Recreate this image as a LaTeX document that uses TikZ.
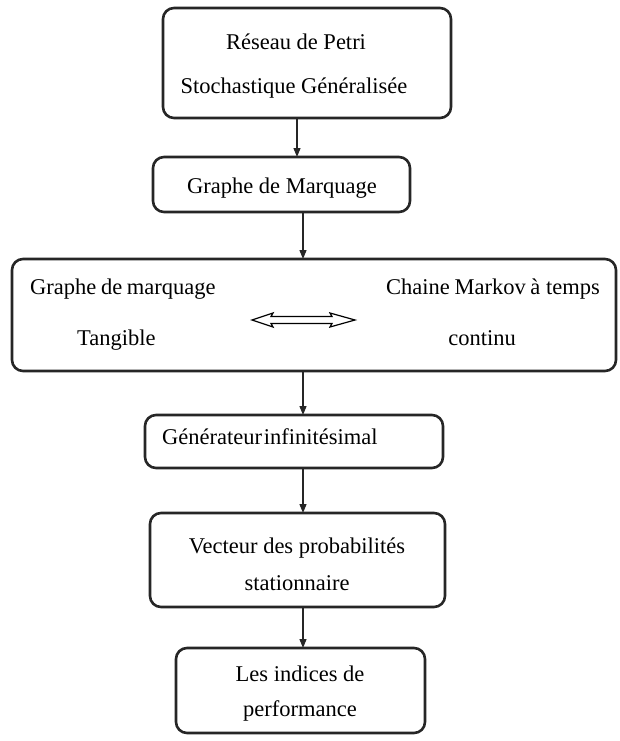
\documentclass[tikz,border=0pt]{standalone}
\usepackage{fontspec}
\setmainfont{Liberation Serif}
\usetikzlibrary{arrows.meta}
\begin{document}
\begin{tikzpicture}[x=1pt,y=-1pt,
  box/.style={draw=black!85,line width=2.6pt,rounded corners=11pt,fill=white},
  txt/.style={font=\fontsize{22.5}{26}\selectfont,inner sep=0pt,anchor=base},
  flow/.style={draw=black!85,line width=1.3pt,-{Triangle[length=9pt,width=7pt]}}]
\useasboundingbox (0,0) rectangle (619,741);
% boxes
\draw[box] (163,8) rectangle (451,118);
\draw[box] (153,157) rectangle (410,212);
\draw[box] (12,259) rectangle (616,371);
\draw[box] (145,415) rectangle (443,468);
\draw[box] (150,513) rectangle (445,607);
\draw[box] (176,648) rectangle (425,733);
% anchors on the box edges
\coordinate (b1s) at (297,118);
\coordinate (b2n) at (297,157);
\coordinate (b2s) at (303,212);
\coordinate (b3n) at (303,259);
\coordinate (b3s) at (303,371);
\coordinate (b4n) at (303,415);
\coordinate (b4s) at (303,468);
\coordinate (b5n) at (303,513);
\coordinate (b5s) at (303,607);
\coordinate (b6n) at (303,648);
% texts
\node[txt] (t1a) at (296,50) {Réseau de Petri};
\node[txt] (t1b) at (294,94) {Stochastique Généralisée};
\node[txt] (t2) at (282,193) {Graphe de Marquage};
\node[txt,anchor=base west] (t3a) at (30,294) {Graphe\hspace{-1pt} de\hspace{-1pt} marquage};
\node[txt,anchor=base west] (t3b) at (77,345) {Tangible};
\node[txt,anchor=base east] (t3c) at (600,294) {Chaine\hspace{-1pt} Markov\hspace{-1pt} à temps};
\node[txt] (t3d) at (482,345) {continu};
\node[txt,anchor=base west] (t4) at (162,444) {Générateur\hspace{-4pt} infinitésimal};
\node[txt] (t5a) at (297,553) {Vecteur des probabilités};
\node[txt] (t5b) at (297,590) {stationnaire};
\node[txt] (t6a) at (300,681) {Les indices de};
\node[txt] (t6b) at (300,716) {performance};
% hollow double arrow between the two views
\draw[line width=1.2pt,line join=miter,fill=white]
  (252,320) -- (273,313) -- (271,316.5) -- (332,316.5) -- (330,313) -- (355,320)
  -- (330,327) -- (332,323.5) -- (271,323.5) -- (273,327) -- cycle;
% flow arrows
\draw[flow] (b1s) -- (b2n);
\draw[flow] (b2s) -- (b3n);
\draw[flow] (b3s) -- (b4n);
\draw[flow] (b4s) -- (b5n);
\draw[flow] (b5s) -- (b6n);
\end{tikzpicture}
\end{document}
